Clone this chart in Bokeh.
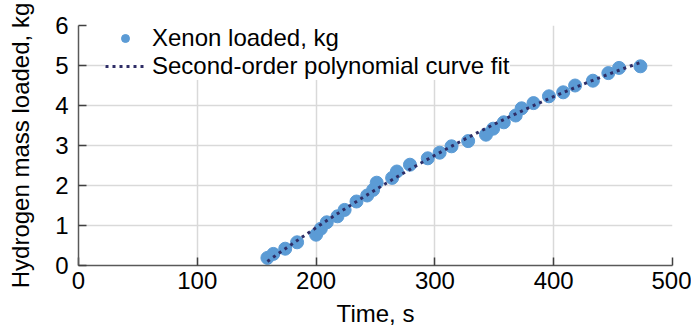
import numpy as np
from bokeh.plotting import figure
from bokeh.models import FixedTicker, Legend, LegendItem
from bokeh.embed import file_html
from bokeh.resources import INLINE

# Data
time_s = [159, 164, 174, 184, 200, 204, 209, 218, 224, 234, 243, 248, 251, 264,
          268, 279, 294, 304, 314, 328, 343, 349, 358, 368, 373, 383, 396, 408,
          418, 433, 446, 455, 473]
xenon_kg = [0.19, 0.29, 0.42, 0.58, 0.77, 0.92, 1.08, 1.23, 1.39, 1.60, 1.75, 1.89,
            2.07, 2.19, 2.35, 2.52, 2.68, 2.82, 2.98, 3.11, 3.27, 3.42, 3.58, 3.75,
            3.93, 4.06, 4.23, 4.33, 4.50, 4.62, 4.81, 4.94, 4.98]
x_ticks = [0, 100, 200, 300, 400, 500]
y_ticks = [0, 1, 2, 3, 4, 5, 6]

series_label = "Xenon loaded, kg"
fit_label = "Second-order polynomial curve fit"
x_title = "Time, s"
y_title = "Hydrogen mass loaded, kg"

# Second-order polynomial fit of the data
coef = np.polyfit(time_s, xenon_kg, 2)
fit_t = np.linspace(min(time_s), 475, 80)
fit_y = np.polyval(coef, fit_t)

FONT = "Liberation Sans"

p = figure(width=691, height=334, x_range=(0, 500), y_range=(0, 6),
           output_backend="svg", toolbar_location=None,
           min_border_left=78, min_border_right=19, min_border_top=25,
           min_border_bottom=69)
p.outline_line_color = None
p.background_fill_color = "white"

for ax in (p.xaxis[0], p.yaxis[0]):
    ax.axis_line_color = "#595959"
    ax.axis_line_width = 1.5
    ax.major_tick_line_color = "#404040"
    ax.major_tick_line_width = 1.5
    ax.major_tick_in = 8
    ax.major_tick_out = 0
    ax.minor_tick_line_color = None
    ax.major_label_text_font = FONT
    ax.major_label_text_font_size = "24px"
    ax.major_label_text_color = "black"
    ax.axis_label_text_font = FONT
    ax.axis_label_text_font_size = "24px"
    ax.axis_label_text_font_style = "normal"
    ax.axis_label_text_color = "black"

p.xaxis[0].ticker = FixedTicker(ticks=x_ticks)
p.yaxis[0].ticker = FixedTicker(ticks=y_ticks)
p.xaxis[0].axis_label = x_title
p.yaxis[0].axis_label = y_title
p.xaxis[0].major_label_standoff = 6
p.yaxis[0].major_label_standoff = 10
p.xaxis[0].axis_label_standoff = 8
p.yaxis[0].axis_label_standoff = 18

for g in (p.xgrid[0], p.ygrid[0]):
    g.grid_line_color = "#d9d9d9"
    g.grid_line_width = 1.5

pts_r = p.scatter(time_s, xenon_kg, size=13, fill_color="#5b9bd5",
                  line_color="#5b9bd5")
fit_r = p.line(fit_t, fit_y, line_color="#2e2d66", line_width=3,
               line_dash="3 4")

legend = Legend(items=[LegendItem(label=series_label, renderers=[pts_r]),
                       LegendItem(label=fit_label, renderers=[fit_r])],
                location=(27, 185))
legend.label_text_font = FONT
legend.label_text_font_size = "24px"
legend.label_text_color = "black"
legend.glyph_width = 40
legend.glyph_height = 20
legend.label_standoff = 7
legend.spacing = -3
legend.padding = 5
legend.margin = 0
legend.border_line_color = None
legend.background_fill_color = "white"
legend.background_fill_alpha = 1.0
p.add_layout(legend)

open("out.html", "w").write(file_html(p, INLINE))
